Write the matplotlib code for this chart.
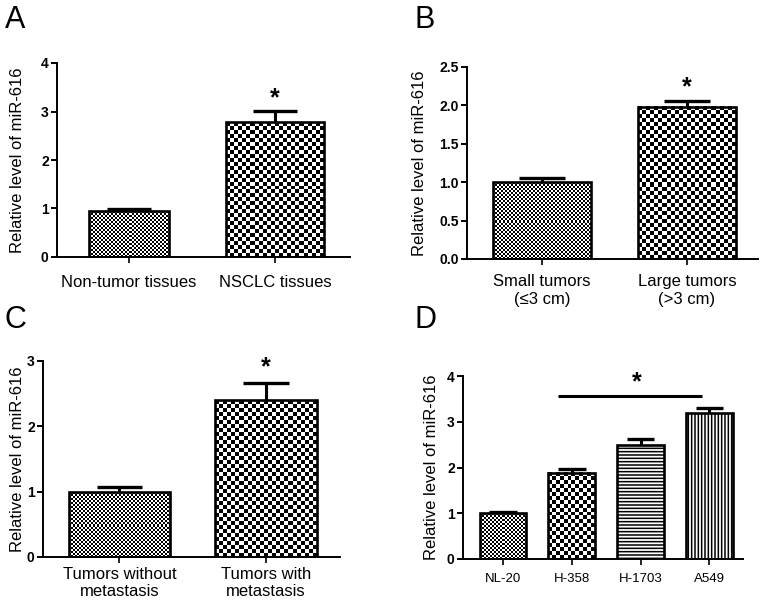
import numpy as np
import matplotlib
matplotlib.use("Agg")
import matplotlib.pyplot as plt

plt.rcParams['font.family'] = ['Liberation Sans', 'DejaVu Sans']
plt.rcParams['hatch.linewidth'] = 1.1

# ---------------- data ----------------
a_cats = ["Non-tumor tissues", "NSCLC tissues"]
a_vals = [0.94, 2.78]
a_errs = [0.04, 0.24]

b_cats = ["Small tumors\n(\u22643 cm)", "Large tumors\n(>3 cm)"]
b_vals = [1.00, 1.98]
b_errs = [0.05, 0.08]

c_cats = ["Tumors without\nmetastasis", "Tumors with\nmetastasis"]
c_vals = [0.99, 2.40]
c_errs = [0.08, 0.27]

d_cats = ["NL-20", "H-358", "H-1703", "A549"]
d_vals = [1.00, 1.89, 2.49, 3.20]
d_errs = [0.03, 0.08, 0.14, 0.11]

ylabel = "Relative level of miR-616"

fig = plt.figure(figsize=(7.65, 6.03), dpi=100)
W, H = 765, 603


def add_axes(l, r, top, bot):
    return fig.add_axes([l / W, 1 - bot / H, (r - l) / W, (bot - top) / H])


def checker(ax, bar, cell):
    x0, y0, w, h = bar.get_x(), bar.get_y(), bar.get_width(), bar.get_height()
    p0 = ax.transData.transform((x0, y0))
    p1 = ax.transData.transform((x0 + w, y0 + h))
    nx = max(1, int(round(abs(p1[0] - p0[0]) / cell)))
    ny = max(1, int(round(abs(p1[1] - p0[1]) / cell)))
    arr = np.add.outer(np.arange(ny), np.arange(nx)) % 2
    ax.imshow(arr, cmap='gray', vmin=0, vmax=1, extent=(x0, x0 + w, y0, y0 + h),
              aspect='auto', interpolation='nearest', zorder=1)


def style(ax, xlim, ylim, yticks, yfmt, xsize, xpad, lab_x):
    ax.set_xlim(*xlim)
    ax.set_ylim(*ylim)
    for s in ['top', 'right']:
        ax.spines[s].set_visible(False)
    for s in ['left', 'bottom']:
        ax.spines[s].set_linewidth(1.4)
    ax.set_yticks(yticks)
    ax.set_yticklabels([yfmt.format(t) for t in yticks], fontweight='bold', fontsize=10)
    ax.tick_params(axis='y', length=4, width=1.4, pad=2)
    ax.tick_params(axis='x', length=4, width=1.2, labelsize=xsize, pad=xpad)
    ax.set_ylabel(ylabel, fontsize=12)
    ax.yaxis.set_label_coords(lab_x, 0.5)


def draw(ax, cats, vals, errs, width, cells, hatches, caphw, xlim, ylim, yticks, yfmt,
         xsize, xpad, lab_x):
    x = np.arange(len(cats))
    style(ax, xlim, ylim, yticks, yfmt, xsize, xpad, lab_x)
    bars = ax.bar(x, vals, width=width, facecolor='none', edgecolor='black',
                  linewidth=1.9, zorder=3)
    for b, c, h in zip(bars, cells, hatches):
        if c:
            checker(ax, b, c)
        if h:
            b.set_hatch(h)
    ax.vlines(x, vals, np.array(vals) + np.array(errs), color='black', linewidth=2.2, zorder=2)
    ax.hlines(np.array(vals) + np.array(errs), x - caphw, x + caphw, color='black',
              linewidth=2.4, zorder=2)
    ax.set_xticks(x)
    ax.set_xticklabels(cats)
    ax.set_xlim(*xlim)
    ax.set_ylim(*ylim)
    return x


# Panel A
axA = add_axes(57, 350, 63, 257)
xa = draw(axA, a_cats, a_vals, a_errs, [0.55, 0.67], [2, 4], [None, None], 0.15,
          (-0.493, 1.514), (0, 4), [0, 1, 2, 3, 4], "{:g}", 12, 9, (25 - 57) / 293)
axA.text(xa[1], a_vals[1] + a_errs[1] + 0.26, "*", ha='center', va='center',
         fontsize=18, fontweight='bold')

# Panel B
axB = add_axes(467, 758, 67, 259)
xb = draw(axB, b_cats, b_vals, b_errs, 0.67, [2, 4], [None, None], 0.16,
          (-0.517, 1.49), (0, 2.5), [0, 0.5, 1.0, 1.5, 2.0, 2.5], "{:.1f}", 12, 7,
          (427 - 467) / 291)
axB.text(xb[1], b_vals[1] + b_errs[1] + 0.18, "*", ha='center', va='center',
         fontsize=18, fontweight='bold')

# Panel C
axC = add_axes(43, 340, 361, 557)
xc = draw(axC, c_cats, c_vals, c_errs, 0.69, [2, 4], [None, None], 0.155,
          (-0.522, 1.505), (0, 3), [0, 1, 2, 3], "{:g}", 12, 3, (25 - 43) / 297)
axC.text(xc[1], c_vals[1] + c_errs[1] + 0.23, "*", ha='center', va='center',
         fontsize=18, fontweight='bold')

# Panel D
axD = add_axes(463, 743, 376, 559)
xd = draw(axD, d_cats, d_vals, d_errs, 0.68, [2, 4, None, None],
          [None, None, '-----', '|||||'], 0.2,
          (-0.582, 3.49), (0, 4), [0, 1, 2, 3, 4], "{:g}", 9.5, 6, (439 - 463) / 280)
sig_y = 3.56
axD.hlines(sig_y, xd[1] - 0.2, xd[3] - 0.1, color='black', linewidth=2.2)
axD.text((xd[1] + xd[3]) / 2 - 0.05, sig_y + 0.3, "*", ha='center', va='center',
         fontsize=18, fontweight='bold')

# panel letters
for lab, (px, py) in zip("ABCD", [(5, 5), (415, 5), (5, 305), (415, 305)]):
    fig.text(px / W, 1 - py / H, lab, fontsize=22, ha='left', va='top')

fig.savefig("out.png", dpi=100)
